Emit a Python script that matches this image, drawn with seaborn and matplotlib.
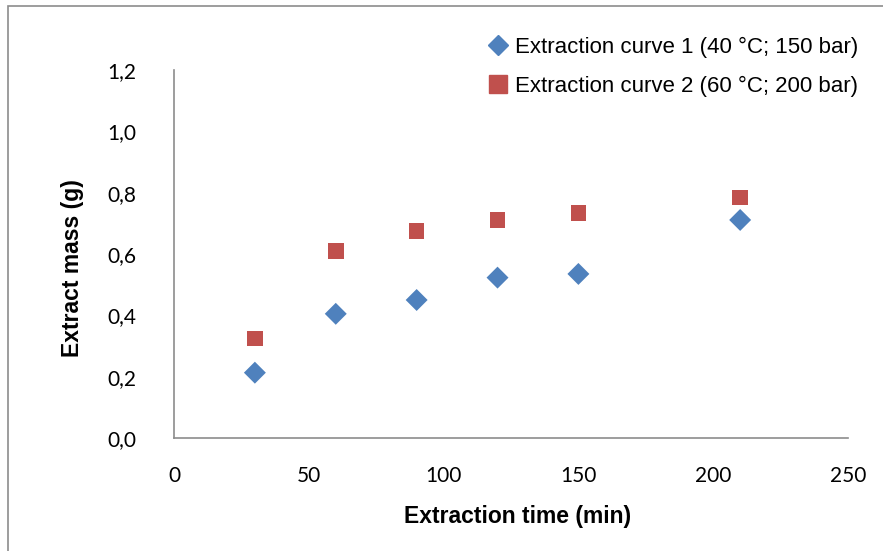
import matplotlib
matplotlib.use("Agg")
import matplotlib.pyplot as plt
import matplotlib.patches as mpatches
import matplotlib.ticker as mticker
import seaborn as sns
import pandas as pd

time_min = [30, 60, 90, 120, 150, 210]
curve1_mass = [0.213, 0.405, 0.450, 0.523, 0.535, 0.711]
curve2_mass = [0.324, 0.610, 0.675, 0.711, 0.734, 0.784]
labels = ["Extraction curve 1 (40 °C; 150 bar)", "Extraction curve 2 (60 °C; 200 bar)"]

df = pd.DataFrame({
    "time": time_min + time_min,
    "mass": curve1_mass + curve2_mass,
    "curve": [labels[0]] * len(time_min) + [labels[1]] * len(time_min),
})

sns.set_theme(style="white")
plt.rcParams['font.family'] = ['Lato', 'DejaVu Sans']
plt.rcParams['text.color'] = 'black'

fig = plt.figure(figsize=(8.83, 5.51), dpi=100)
ax = fig.add_axes([174/883, 1-438/551, (848-174)/883, (438-70)/551])

sns.scatterplot(data=df, x="time", y="mass", hue="curve", style="curve",
                palette=["#4F81BD", "#C0504D"], markers=["D", "s"],
                s=160, edgecolor="none", ax=ax, legend=False)
ax.collections[0].set_sizes([125])

ax.set_xlim(0, 250)
ax.set_ylim(0, 1.2)
ax.set_xticks([0, 50, 100, 150, 200, 250])
ax.set_yticks([0, 0.2, 0.4, 0.6, 0.8, 1.0, 1.2])
ax.yaxis.set_major_formatter(mticker.FuncFormatter(lambda v, p: f"{v:.1f}".replace(".", ",")))
ax.tick_params(axis="both", length=0, labelsize=15, colors="black")
ax.tick_params(axis="x", pad=20)
ax.tick_params(axis="y", pad=27)
for sp in ["top", "right"]:
    ax.spines[sp].set_visible(False)
for sp in ["left", "bottom"]:
    ax.spines[sp].set_color("#8c8c8c")
    ax.spines[sp].set_linewidth(1.2)

lab = ['Liberation Sans', 'DejaVu Sans']
ax.set_xlabel("Extraction time (min)", fontsize=16.5, fontweight="bold", family=lab, color="black")
ax.set_ylabel("Extract mass (g)", fontsize=16.5, fontweight="bold", family=lab, color="black")
ax.xaxis.set_label_coords((518-174)/674, (438-517)/368)
ax.xaxis.label.set_va("center")
ax.yaxis.set_label_coords((72-174)/674, (438-268)/368)
ax.yaxis.label.set_va("center")

handles = [
    plt.Line2D([], [], marker="D", color="#4F81BD", linestyle="none", markersize=10.5),
    plt.Line2D([], [], marker="s", color="#C0504D", linestyle="none", markersize=12.5),
]
fig.legend(handles, labels, loc="upper left", bbox_to_anchor=(465/883, 1-17/551),
           frameon=False, prop={"family": lab, "size": 16},
           handletextpad=0.15, labelspacing=0.8, handlelength=1.2)

fig.patches.append(mpatches.Rectangle((8/883, -0.01), 1.0, 1-6/551 + 0.01, transform=fig.transFigure,
                                      fill=False, edgecolor="#8c8c8c", linewidth=1.2))

fig.savefig("out.png", dpi=100)
